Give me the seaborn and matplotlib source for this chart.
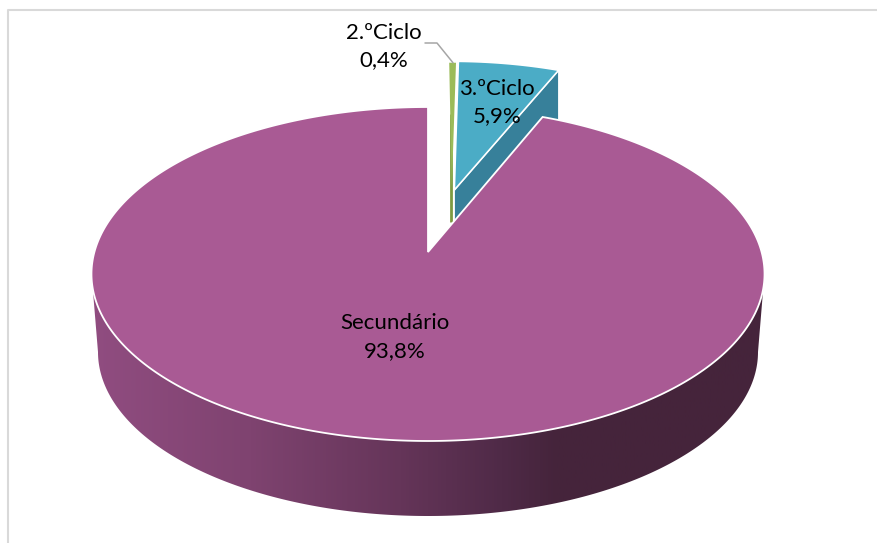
import numpy as np
import matplotlib
matplotlib.use("Agg")
import matplotlib.pyplot as plt
from matplotlib.colors import LinearSegmentedColormap
from matplotlib.patches import Polygon
import seaborn as sns

# ---- data ----
categories = ["2.ºCiclo", "3.ºCiclo", "Secundário"]
shares = [0.4, 5.9, 93.8]
share_labels = ["0,4%", "5,9%", "93,8%"]

# ---- style ----
top_colors = ["#9BBB59", "#4BACC6", "#A95A94"]
wall_colors = ["#7C9A41", "#37809A"]
wall_stops = [(0.0, "#914D81"), (0.24, "#7F4370"), (0.46, "#653559"), (0.61, "#4F2A47"),
              (0.69, "#45243B"), (1.0, "#45243B")]

sns.set_theme(style="white")
plt.rcParams["font.family"] = ["Lato", "DejaVu Sans"]

fig, ax = plt.subplots(figsize=(8.78, 5.43), dpi=100)
ax.set_position([0, 0, 1, 1])
ax.set_xlim(0, 878)
ax.set_ylim(543, 0)
ax.axis("off")

# perspective projection of the unit disc onto the picture
APEX_X, APEX_Y, A, B, K = 428.0, 252.0, 333.6, 164.1, 0.1317


def project(u, v):
    u, v = np.asarray(u, float), np.asarray(v, float)
    d = 1 + K * v
    return APEX_X + A * u / d, APEX_Y - B * v / d


def slice_outline(start, end, du=0.0, dv=0.0, radius=1.0, n=240):
    t = np.radians(np.linspace(start, end, n))
    u = np.r_[du, du + radius * np.sin(t), du]
    v = np.r_[dv, dv + radius * np.cos(t), dv]
    return project(u, v)


edges = np.r_[0, np.cumsum(shares)] / np.sum(shares) * 360

# exploded slices: offset in the pie plane and reduced radius
off_green = (0.075, 0.405, 0.955)
off_teal = (0.083, 0.397, 0.975)

# green slice
gx, gy = slice_outline(edges[0], edges[1], *off_green)
wall_drop = 33
ax.plot([gx[0] - 1, gx[0] - 1], [gy[0] - 75, gy[0] + wall_drop], color=wall_colors[0], lw=2, zorder=2.05,
        solid_capstyle="butt")
ax.fill(gx, gy, color=top_colors[0], lw=0, zorder=2.1)

# teal slice with its cut wall
tx, ty = slice_outline(edges[1], edges[2], *off_teal)
corner_x, corner_y = tx[-2], ty[-2]
ax.fill([tx[0], corner_x, corner_x, tx[0]],
        [ty[0], corner_y, corner_y + 60, ty[0] + wall_drop],
        color=wall_colors[1], ec="white", lw=0.8, zorder=3)
ax.fill(tx, ty, color=top_colors[1], ec="white", lw=1.2, zorder=3.1)

# Secundário wall
t = np.linspace(0, 2 * np.pi, 1500)
ex, ey = project(np.sin(t), np.cos(t))
left = np.where(ey >= 288)[0]
rim_x, rim_y = ex[left], ey[left]
o = np.argsort(rim_x)
rim_x, rim_y = rim_x[o], rim_y[o]
BOT_Y, BOT_A, BOT_B = 352.0, 330.0, 164.0
s = np.linspace(np.pi, 0, 400)
bot_x = APEX_X + BOT_A * np.cos(s)
bot_y = BOT_Y + BOT_B * np.sin(s)
wall = Polygon(np.c_[np.r_[rim_x, bot_x[::-1]], np.r_[rim_y, bot_y[::-1]]], closed=True,
               transform=ax.transData, fc="none", ec="none")
ax.add_patch(wall)
cmap = LinearSegmentedColormap.from_list("wall", wall_stops)
im = ax.imshow(np.linspace(0, 1, 512)[None, :], cmap=cmap, aspect="auto",
               extent=(85, 770, 543, 0), zorder=4)
im.set_clip_path(wall)
ax.set_xlim(0, 878)
ax.set_ylim(543, 0)

# Secundário top
sx, sy = slice_outline(edges[2], 360, n=1200)
ax.fill(sx, sy, color=top_colors[2], ec="white", lw=1.3, zorder=5)

# frame
ax.plot([8, 8, 878], [543, 10, 10], color="#D9D9D9", lw=1.5, zorder=1)

# labels
txt = dict(color="black", fontsize=16, ha="center", va="center", zorder=6, linespacing=1.45)
ax.text(384, 46.5, f"{categories[0]}\n{share_labels[0]}", **txt)
ax.text(497, 102.5, f"{categories[1]}\n{share_labels[1]}", **txt)
ax.text(395, 337, f"{categories[2]}\n{share_labels[2]}", **txt)

# leader line
ax.plot([425, 437, gx[-2] - 3], [43, 43, gy[-2]], color="#A6A6A6", lw=1.1, zorder=6)

fig.savefig("out.png", dpi=100)
